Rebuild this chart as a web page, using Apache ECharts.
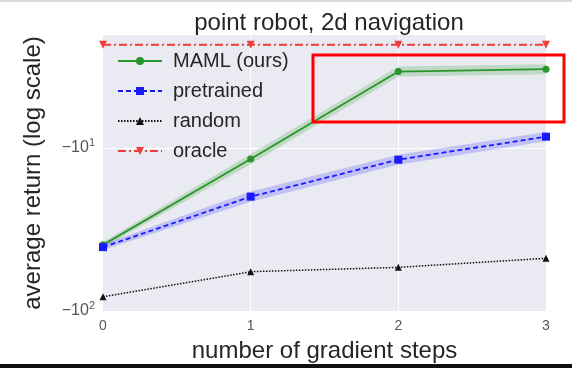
<!DOCTYPE html>
<html>
<head>
<meta charset="utf-8">
<script src="https://cdn.jsdelivr.net/npm/echarts@6/dist/echarts.min.js"></script>
<style>html,body{margin:0;padding:0;background:#fff}#c{width:572px;height:368px}</style>
</head>
<body>
<div id="c"></div>
<script>
const steps = [0, 1, 2, 3];
const xTicks = [0, 1, 2, 3];
const yTicks = [-10, -100];
const mamlMean = [-39.3, -11.7, -3.40, -3.29];
const mamlNear = [-37.7, -10.9, -3.17, -3.07];
const mamlFar = [-41.0, -12.6, -3.65, -3.53];
const pretrainedMean = [-40.6, -19.9, -11.8, -8.53];
const pretrainedNear = [-39.0, -18.5, -11.0, -8.0];
const pretrainedFar = [-42.3, -21.4, -12.7, -9.1];
const randomMean = [-81.7, -57.4, -54.0, -47.5];
const oracleMean = [-2.33, -2.33, -2.33, -2.33];

const mag = v => -v;
const pts = arr => steps.map((s, i) => [s, mag(arr[i])]);
// one item per segment: [x0, near0, far0, x1, near1, far1]
const segs = (near, far) => steps.slice(0, -1).map((s, i) =>
  [s, mag(near[i]), mag(far[i]), steps[i + 1], mag(near[i + 1]), mag(far[i + 1])]);

const FONT = '"Liberation Sans", Arial, sans-serif';
const chart = echarts.init(document.getElementById('c'), null, {renderer: 'canvas'});

function band(name, near, far, color) {
  return {
    name: name, type: 'custom', data: segs(near, far), silent: true, z: 1,
    encode: {x: [0, 3], y: [1, 2, 4, 5]},
    renderItem: (params, api) => {
      const a = api.coord([api.value(0), api.value(1)]);
      const b = api.coord([api.value(3), api.value(4)]);
      const c = api.coord([api.value(3), api.value(5)]);
      const d = api.coord([api.value(0), api.value(2)]);
      return {type: 'polygon', shape: {points: [a, b, c, d]}, style: {fill: color, opacity: 0.22}};
    }
  };
}

chart.setOption({
  animation: false,
  textStyle: {fontFamily: FONT},
  title: {
    text: 'point robot, 2d navigation', left: 324, top: 6, textAlign: 'center',
    textStyle: {fontFamily: FONT, fontSize: 24, fontWeight: 'normal', color: '#262626'}
  },
  grid: {left: 103, right: 26, top: 35, bottom: 57, show: true, backgroundColor: '#EAEAF2', borderWidth: 0},
  legend: {
    data: ['MAML (ours)', 'pretrained', 'random', 'oracle'],
    orient: 'vertical', left: 112, top: 46, itemWidth: 44, itemHeight: 10, itemGap: 10,
    textStyle: {fontFamily: FONT, fontSize: 20, color: '#262626', padding: [0, 0, 0, 6]}
  },
  xAxis: {
    type: 'value', min: 0, max: 3, interval: 1,
    name: 'number of gradient steps', nameLocation: 'middle', nameGap: 28,
    nameTextStyle: {fontFamily: FONT, fontSize: 24, color: '#262626'},
    axisLine: {show: false}, axisTick: {show: false},
    axisLabel: {fontFamily: FONT, fontSize: 14, color: '#555', margin: 8,
      formatter: v => xTicks.includes(v) ? String(v) : ''},
    splitLine: {show: true, showMinLine: false, showMaxLine: false, lineStyle: {color: '#fff', width: 1}}
  },
  yAxis: {
    type: 'log', logBase: 10, inverse: true, min: 2.03, max: 100,
    name: 'average return (log scale)', nameLocation: 'middle', nameGap: 58,
    nameTextStyle: {fontFamily: FONT, fontSize: 24, color: '#262626'},
    axisLine: {show: false}, axisTick: {show: false},
    axisLabel: {
      fontFamily: FONT, fontSize: 16, color: '#555', margin: 8,
      formatter: v => {
        const t = yTicks.find(t => Math.abs(mag(t) - v) / mag(t) < 1e-6);
        if (t === undefined) return '';
        return '{b|\u221210}{s|' + Math.round(Math.log10(mag(t))) + '}';
      },
      rich: {b: {fontSize: 16, color: '#555', fontFamily: FONT}, s: {fontSize: 11, color: '#555', fontFamily: FONT, padding: [0, 0, 10, 0]}}
    },
    splitLine: {show: true, showMinLine: false, showMaxLine: false, lineStyle: {color: '#fff', width: 1}}
  },
  series: [
    band('mamlBand', mamlNear, mamlFar, '#2ca02c'),
    band('preBand', pretrainedNear, pretrainedFar, '#3333ff'),
    {name: 'oracle', type: 'line', data: pts(oracleMean), symbol: 'triangle', symbolRotate: 180, symbolSize: 8,
     itemStyle: {color: '#f03c3c'}, lineStyle: {color: '#f03c3c', width: 2, type: [8, 3, 2, 3]}, z: 3},
    {name: 'MAML (ours)', type: 'line', data: pts(mamlMean), symbol: 'circle', symbolSize: 7,
     itemStyle: {color: '#2a952a'}, lineStyle: {color: '#2a952a', width: 1.8}, z: 4},
    {name: 'pretrained', type: 'line', data: pts(pretrainedMean), symbol: 'rect', symbolSize: 8,
     itemStyle: {color: '#1a1aff'}, lineStyle: {color: '#1a1aff', width: 1.8, type: [5, 3]}, z: 4},
    {name: 'random', type: 'line', data: pts(randomMean), symbol: 'triangle', symbolSize: 7,
     itemStyle: {color: '#111'}, lineStyle: {color: '#111', width: 1.5, type: [1.5, 1.5]}, z: 4}
  ],
  graphic: [
    {type: 'line', shape: {x1: 0, y1: 1, x2: 572, y2: 1}, style: {stroke: '#dcdcdc', lineWidth: 2}},
    {type: 'rect', shape: {x: 0, y: 364, width: 572, height: 4}, style: {fill: '#111'}},
    {type: 'rect', shape: {x: 313, y: 55, width: 251, height: 67}, style: {fill: 'none', stroke: '#ff0000', lineWidth: 3}, z: 100}
  ]
});
</script>
</body>
</html>
